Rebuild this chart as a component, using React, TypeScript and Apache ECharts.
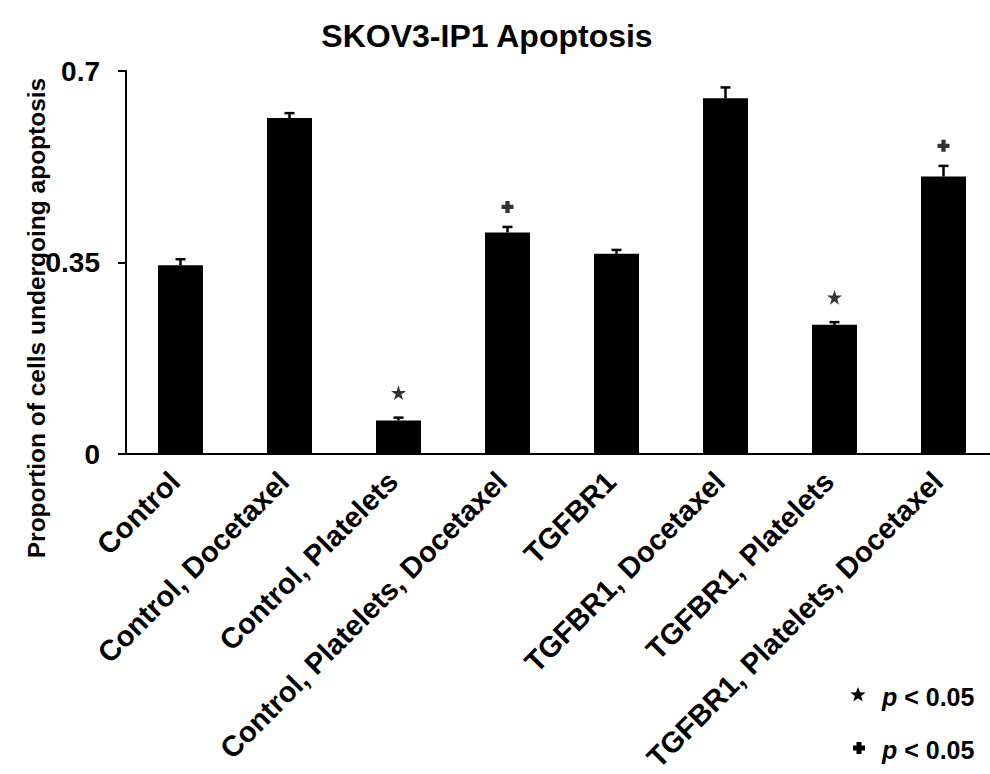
import React, { useEffect, useRef } from "react";
import * as echarts from "echarts";

// Treatment groups along the x axis
const categories = [
  "Control",
  "Control, Docetaxel",
  "Control, Platelets",
  "Control, Platelets, Docetaxel",
  "TGFBR1",
  "TGFBR1, Docetaxel",
  "TGFBR1, Platelets",
  "TGFBR1, Platelets, Docetaxel",
];

// Mean proportion of apoptotic cells and its standard error
const means = [0.345, 0.614, 0.061, 0.405, 0.366, 0.65, 0.236, 0.507];
const errors = [0.011, 0.009, 0.0055, 0.01, 0.007, 0.02, 0.005, 0.0196];

// Groups marked significant (indices into categories)
const starGroups = [2, 6];
const plusGroups = [3, 7];

const yTicks = [0, 0.35, 0.7];

const FONT = "'Liberation Sans', Arial, Helvetica, sans-serif";
const STAR_PATH =
  "path://M50,0 L61,35 L98,35 L68,57 L79,91 L50,70 L21,91 L32,57 L2,35 L39,35 Z";
const PLUS_PATH =
  "path://M32,0 H68 V32 H100 V68 H68 V100 H32 V68 H0 V32 H32 Z";

function starPoints(cx: number, cy: number, ro: number, ri: number) {
  const pts: number[][] = [];
  for (let i = 0; i < 10; i++) {
    const r = i % 2 === 0 ? ro : ri;
    const a = -Math.PI / 2 + (i * Math.PI) / 5;
    pts.push([cx + r * Math.cos(a), cy + r * Math.sin(a)]);
  }
  return pts;
}

function plusPoints(cx: number, cy: number, s: number, w: number) {
  const h = s / 2;
  const k = w / 2;
  return [
    [cx - k, cy - h], [cx + k, cy - h], [cx + k, cy - k], [cx + h, cy - k],
    [cx + h, cy + k], [cx + k, cy + k], [cx + k, cy + h], [cx - k, cy + h],
    [cx - k, cy + k], [cx - h, cy + k], [cx - h, cy - k], [cx - k, cy - k],
  ];
}

export default function App() {
  const ref = useRef<HTMLDivElement>(null);

  useEffect(() => {
    if (!ref.current) return;
    const chart = echarts.init(ref.current, null, { renderer: "svg" });

    const errData = means.map((m, i) => [i, m, m + errors[i]]);
    const starData = starGroups.map((i) => [categories[i], means[i] + errors[i]]);
    const plusData = plusGroups.map((i) => [categories[i], means[i] + errors[i]]);

    const legendText = (y: number) => ({
      type: "text",
      x: 882,
      y,
      style: {
        text: "{i|p} < 0.05",
        fontSize: 25,
        fontWeight: "bold",
        fontFamily: FONT,
        fill: "#000",
        textVerticalAlign: "middle",
        rich: {
          i: { fontStyle: "italic", fontWeight: "bold", fontSize: 25, fontFamily: FONT, fill: "#000" },
        },
      },
    });

    chart.setOption({
      animation: false,
      backgroundColor: "#fff",
      grid: {
        left: 126,
        top: 71,
        width: 872,
        height: 383,
        containLabel: false,
        outerBoundsMode: "none",
      },
      xAxis: {
        type: "category",
        data: categories,
        boundaryGap: true,
        axisLine: { lineStyle: { color: "#000", width: 2 } },
        axisTick: { length: 8, lineStyle: { color: "#000", width: 2 } },
        axisLabel: {
          rotate: 45,
          interval: 0,
          margin: 17,
          padding: [0, 8, 0, 0],
          color: "#000",
          fontSize: 29,
          fontWeight: "bold",
          fontFamily: FONT,
        },
      },
      yAxis: {
        type: "value",
        min: yTicks[0],
        max: yTicks[yTicks.length - 1],
        interval: yTicks[1] - yTicks[0],
        splitLine: { show: false },
        axisLine: { show: true, lineStyle: { color: "#000", width: 2 } },
        axisTick: { show: true, length: 8, lineStyle: { color: "#000", width: 2 } },
        axisLabel: {
          margin: 26,
          color: "#000",
          fontSize: 28,
          fontWeight: "bold",
          fontFamily: FONT,
          formatter: (v: number) => String(Math.round(v * 100) / 100),
        },
      },
      series: [
        {
          type: "bar",
          data: means,
          barWidth: 45,
          itemStyle: { color: "#000" },
        },
        {
          type: "custom",
          data: errData,
          z: 3,
          renderItem: (params: any, api: any) => {
            const x = api.value(0);
            const lo = api.coord([x, api.value(1)]);
            const hi = api.coord([x, api.value(2)]);
            const cap = 5;
            return {
              type: "group",
              children: [
                {
                  type: "line",
                  shape: { x1: lo[0], y1: lo[1], x2: hi[0], y2: hi[1] },
                  style: { stroke: "#000", lineWidth: 2.5 },
                },
                {
                  type: "line",
                  shape: { x1: hi[0] - cap, y1: hi[1], x2: hi[0] + cap, y2: hi[1] },
                  style: { stroke: "#000", lineWidth: 2.5 },
                },
              ],
            };
          },
        },
        {
          type: "scatter",
          data: starData,
          symbol: STAR_PATH,
          symbolSize: 15,
          symbolOffset: [0, -25],
          itemStyle: { color: "#000" },
        },
        {
          type: "scatter",
          data: plusData,
          symbol: PLUS_PATH,
          symbolSize: 12,
          symbolOffset: [0, -20],
          itemStyle: { color: "#000" },
        },
      ],
      graphic: [
        {
          type: "text",
          x: 487,
          y: 36,
          style: {
            text: "SKOV3-IP1 Apoptosis",
            font: `bold 32px ${FONT}`,
            fill: "#000",
            textAlign: "center",
            textVerticalAlign: "middle",
          },
        },
        {
          type: "text",
          x: 36,
          y: 318,
          rotation: Math.PI / 2,
          style: {
            text: "Proportion of cells undergoing apoptosis",
            font: `bold 24.5px ${FONT}`,
            fill: "#000",
            textAlign: "center",
            textVerticalAlign: "middle",
          },
        },
        {
          type: "polygon",
          shape: { points: starPoints(858, 695, 8, 3.3) },
          style: { fill: "#000" },
        },
        {
          type: "polygon",
          shape: { points: plusPoints(859, 748, 12, 5) },
          style: { fill: "#000" },
        },
        legendText(697),
        legendText(750),
      ],
    });

    return () => chart.dispose();
  }, []);

  return (
    <div
      ref={ref}
      style={{ position: "absolute", left: 0, top: 0, width: 990, height: 774 }}
    />
  );
}
